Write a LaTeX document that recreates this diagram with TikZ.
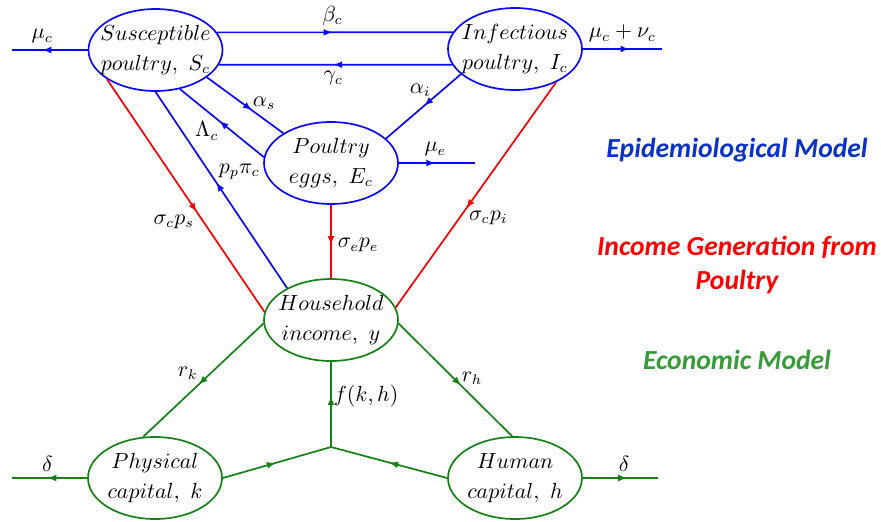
\documentclass[tikz,border=0pt]{standalone}
\usepackage{fontspec}
\newfontfamily\calib{Carlito}
\usetikzlibrary{shapes.geometric,decorations.markings,arrows.meta}
\definecolor{eblue}{RGB}{10,10,245}
\definecolor{tblue}{RGB}{10,50,200}
\definecolor{ered}{RGB}{255,0,0}
\definecolor{egreen}{RGB}{20,130,20}
\definecolor{tgreen}{RGB}{55,155,55}
\begin{document}
\begin{tikzpicture}[x=0.5pt,y=-0.5pt,
 ell/.style={draw, ellipse, minimum width=67pt, minimum height=41pt, inner sep=0pt, line width=0.85pt},
 etext/.style={align=center, font=\fontsize{10.6}{15}\selectfont, inner sep=0pt, text=black},
 conn/.style={line width=0.85pt},
 marr/.style={postaction={decorate, decoration={markings, mark=at position #1 with {\arrow{Latex[length=4.5pt,width=3.5pt]}}}}},
 lab/.style={font=\fontsize{10.6}{12}\selectfont, inner sep=0pt, text=black},
 side/.style={font=\calib\bfseries\itshape\fontsize{13.8}{17}\selectfont, align=center}
]
\useasboundingbox (0,0) rectangle (881,521);

% nodes
\node[ell, draw=eblue] (S) at (155.5,50) {};
\node[etext] (St) at (S) {$Susceptible$\\$poultry,\ S_c$};
\node[ell, draw=eblue] (I) at (515,49) {};
\node[etext] (It) at (I) {$Infectious$\\$poultry,\ I_c$};
\node[ell, draw=eblue] (E) at (331,163) {};
\node[etext] (Et) at (E) {$Poultry$\\$eggs,\ E_c$};
\node[ell, draw=egreen] (H) at (331,320) {};
\node[etext] (Ht) at (H) {$Household$\\$income,\ y$};
\node[ell, draw=egreen] (P) at (155,478) {};
\node[etext] (Pt) at (P) {$Physical$\\$capital,\ k$};
\node[ell, draw=egreen] (Hm) at (515,478) {};
\node[etext] (Hmt) at (Hm) {$Human$\\$capital,\ h$};

\coordinate (sL) at (12,50);
\coordinate (iR) at (662,49);
\coordinate (eR) at (475,163);
\coordinate (pL) at (12,478);
\coordinate (hR) at (658,478);
\coordinate (J) at (331,447);

% epidemiological (blue)
\draw[conn,eblue,marr=0.6] (S.west) -- (sL) node[lab,pos=0.6,above=3pt] {$\mu_c$};
\draw[conn,eblue,marr=0.49] (S.16) -- (I.165) node[lab,pos=0.49,above=3pt] {$\beta_c$};
\draw[conn,eblue,marr=0.51] (I.194) -- (S.-13) node[lab,pos=0.51,below=3pt] {$\gamma_c$};
\draw[conn,eblue,marr=0.59] (I.east) -- (iR) node[lab,pos=0.5,above=3pt] {$\mu_c+\nu_c$};
\draw[conn,eblue,marr=0.59] (S.-28) -- (E.148) node[lab,pos=0.59,above right] {$\alpha_s$};
\draw[conn,eblue,marr=0.53] (E.175) -- (S.-58) node[lab,pos=0.53,below left] {$\Lambda_c$};
\draw[conn,eblue,marr=0.54] (H.144) -- (S.south) node[lab,pos=0.54,above right=1pt] {$p_p\pi_c$};
\draw[conn,eblue,marr=0.49] (I.205) -- (E.24) node[lab,pos=0.49,above=4pt,xshift=-2pt] {$\alpha_i$};
\draw[conn,eblue,marr=0.48] (E.east) -- (eR) node[lab,pos=0.48,above=3pt] {$\mu_e$};

% income (red)
\draw[conn,ered,marr=0.57] (S.211) -- (H.173) node[lab,pos=0.57,below left=1pt] {$\sigma_c p_s$};
\draw[conn,ered,marr=0.55] (E.south) -- (H.north) node[lab,pos=0.55,right=3pt] {$\sigma_e p_e$};
\draw[conn,ered,marr=0.56] (I.-39) -- (H.11) node[lab,pos=0.56,below right=1pt] {$\sigma_c p_i$};

% economic (green)
\draw[conn,egreen,marr=0.54] (H.183) -- (P.106) node[lab,pos=0.54,above left=2pt,xshift=2pt] {$r_k$};
\draw[conn,egreen,marr=0.55] (H.-3) -- (Hm.94) node[lab,pos=0.55,above right] {$r_h$};
\draw[conn,egreen,marr=0.49] (P.east) -- (J);
\draw[conn,egreen,marr=0.5] (Hm.west) -- (J);
\draw[conn,egreen,marr=0.6] (J) -- (H.south) node[lab,pos=0.6,right=1pt] {$f(k,h)$};
\draw[conn,egreen,marr=0.53] (P.west) -- (pL) node[lab,pos=0.53,above=3pt] {$\delta$};
\draw[conn,egreen,marr=0.59] (Hm.east) -- (hR) node[lab,pos=0.55,above=3pt] {$\delta$};

% side titles
\node[side, text=tblue] (epi) at (737,150) {Epidemiological Model};
\node[side, text=ered] (inc) at (737,265) {Income Generation from\\Poultry};
\node[side, text=tgreen] (eco) at (737,360) {Economic Model};
\end{tikzpicture}
\end{document}
